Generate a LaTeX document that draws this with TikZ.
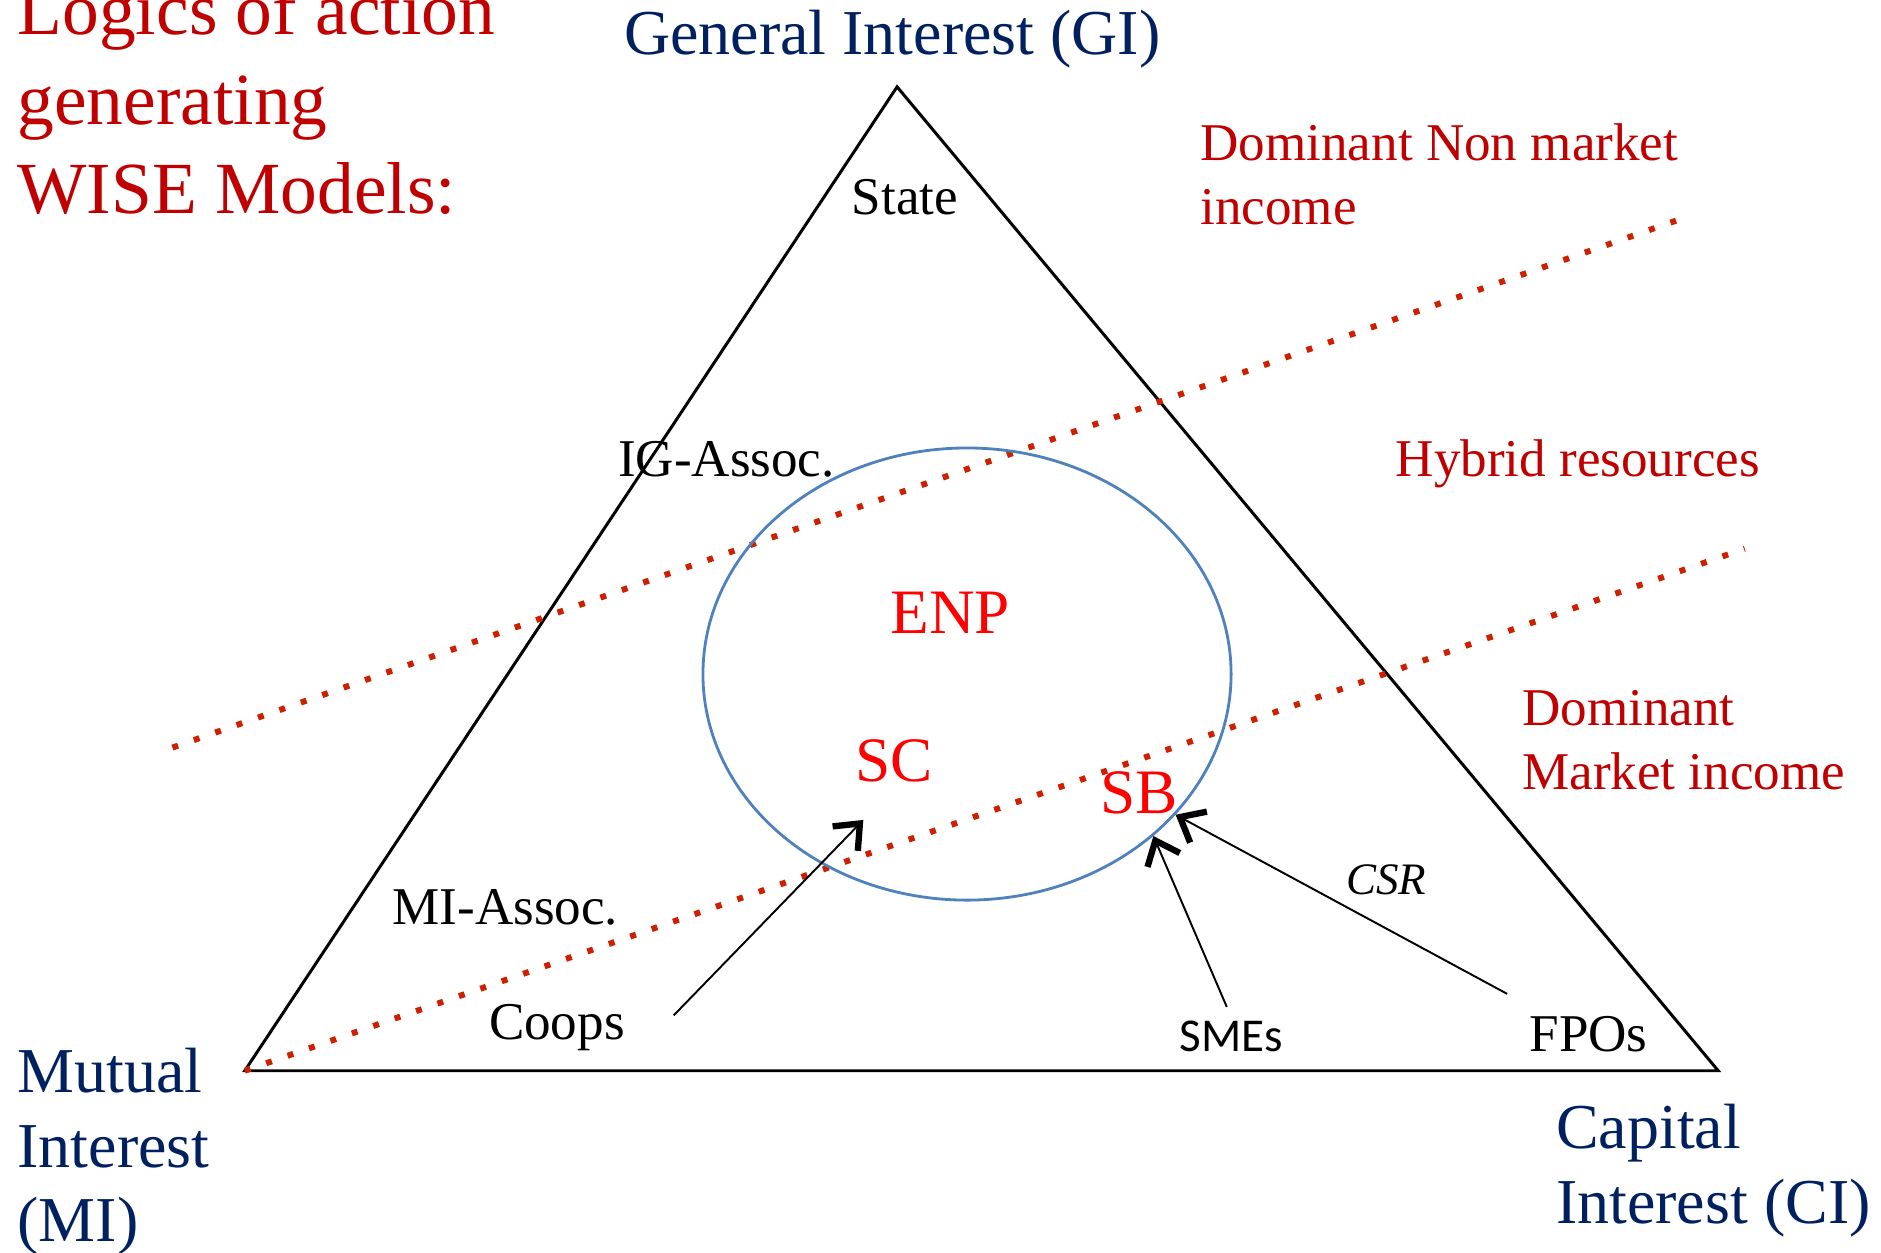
\documentclass[tikz,border=0pt]{standalone}
\usepackage{fontspec}
\setmainfont{Liberation Serif}
\newfontfamily\carlito{Carlito}
\usepackage{xcolor}
\usetikzlibrary{shapes.geometric, arrows.meta, positioning, calc}

\definecolor{titlered}{RGB}{192,0,0}
\definecolor{navy}{RGB}{0,32,96}
\definecolor{brightred}{RGB}{255,0,0}
\definecolor{dotred}{RGB}{204,32,0}
\definecolor{ovalblue}{RGB}{79,129,189}

\begin{document}
\begin{tikzpicture}[
   x=0.01206cm, y=-0.01206cm,
   txt/.style = {inner sep=0pt, anchor=base west, align=left},
   title/.style = {txt, text=titlered, font=\fontsize{20.9}{25.4}\selectfont},
   pole/.style = {txt, text=navy, font=\fontsize{18.2}{21.3}\selectfont},
   zone/.style = {txt, text=titlered, font=\fontsize{15.1}{18.2}\selectfont},
   actor/.style = {txt, font=\fontsize{15.1}{18}\selectfont},
   model/.style = {txt, text=brightred, font=\fontsize{18}{21}\selectfont},
   border/.style = {draw=dotred, line width=1.7pt, dash pattern=on 1.7pt off 4.75pt},
   tri/.style = {draw, line width=0.85pt, line join=miter},
   line/.style = {draw, line width=0.55pt, -{Straight Barb[length=6pt, width=10pt, line width=1.8pt]}}
   ]
  \useasboundingbox (0,0) rectangle (1560,1039);

  % Triangle
  \coordinate (apex) at (744,72);
  \coordinate (lcorner) at (203,888);
  \coordinate (rcorner) at (1425,888);
  \draw[tri] (apex) -- (lcorner) -- (rcorner) -- cycle;

  % Resource borders
  \coordinate (upA) at (143,620);
  \coordinate (upB) at (1390,183);
  \coordinate (lowA) at (203,888);
  \coordinate (lowB) at (1447,455);
  \draw[border] (upA) -- (upB);
  \draw[border] (lowA) -- (lowB);

  % WISE oval
  \node[draw=ovalblue, line width=0.8pt, ellipse, inner sep=0pt,
   minimum width=5.28cm, minimum height=4.52cm] (oval) at (802,559) {};

  % Title (base = last line)
  \node[title] (title) at (14,177)
   {Logics of action\\
   generating\\
   WISE Models:};

  % Poles
  \node[pole] (gi) at (517,45) {General Interest (GI)};
  \node[pole] (mi) at (14,1030)
   {Mutual\\
   Interest\\
   (MI)};
  \node[pole] (ci) at (1290,1015)
   {Capital\\
   Interest (CI)};

  % Resource zones
  \node[zone] (nonmarket) at (995,186)
   {Dominant Non market\\
   income};
  \node[zone] (hybrid) at (1157,395) {Hybrid resources};
  \node[zone] (market) at (1262,655)
   {Dominant\\
   Market income};

  % Actors
  \node[actor] (state) at (706,178) {State};
  \node[actor] (igassoc) at (512,395) {IG-Assoc.};
  \node[actor] (miassoc) at (325,767) {MI-Assoc.};
  \node[actor] (coops) at (405,862) {Coops};
  \node[actor] (fpos) at (1268,872) {FPOs};
  \node[txt, font=\carlito\fontsize{13.4}{16}\selectfont] (smes) at (978,872) {SMEs};
  \node[txt, font=\itshape\fontsize{12.8}{15}\selectfont] (csr) at (1116,742) {CSR};

  % Models
  \node[model] (enp) at (738,525) {ENP};
  \node[model] (sc) at (709,648) {SC};
  \node[model] (sb) at (912,675) {SB};

  % Arrows
  \coordinate (scin) at (716,680);
  \draw[line] ($(coops.east)+(40,-10)$) -- (scin);
  \draw[line] ($(smes.north)+(-4,-11)$) -- (oval.-41);
  \draw[line] ($(fpos.north west)+(-18,-18)$) -- (oval.-34);
\end{tikzpicture}
\end{document}
